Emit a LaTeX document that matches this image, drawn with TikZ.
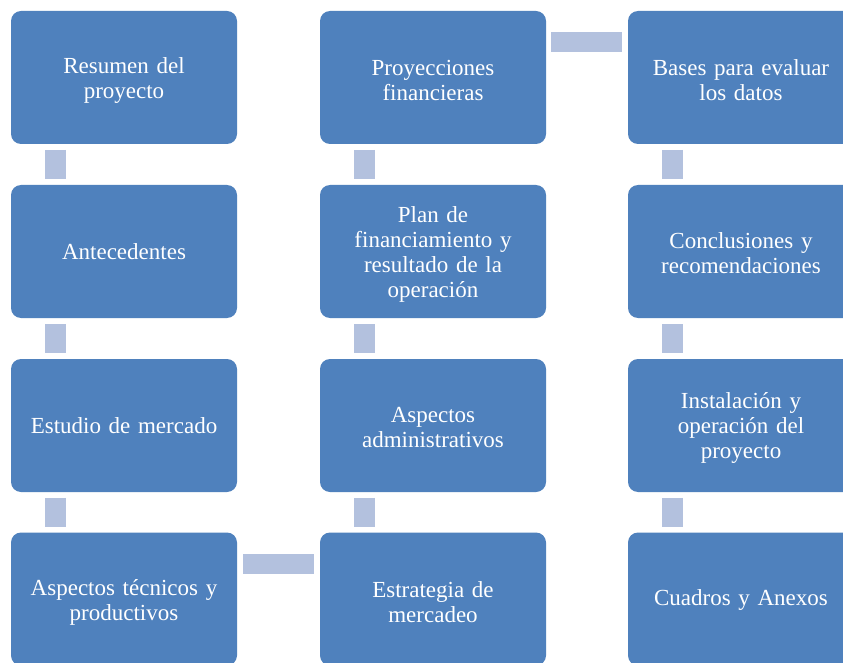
\documentclass[tikz,border=0pt]{standalone}
\usepackage{fontspec}
\setmainfont{Liberation Serif}
\usetikzlibrary{calc}
\definecolor{boxblue}{HTML}{4F81BD}
\definecolor{barblue}{HTML}{B3C1DE}
\tikzset{
  stepbox/.style={rectangle, rounded corners=10pt, fill=boxblue, draw=none,
    minimum width=226pt, minimum height=133pt, inner sep=0pt},
  boxtext/.style={inner sep=0pt, text width=214pt, align=center, text=white,
    font=\fontsize{23pt}{25pt}\selectfont},
  vbar/.style={draw=barblue, line width=21pt, line cap=butt},
  hbar/.style={draw=barblue, line width=20pt, line cap=butt}
}
\begin{document}
\begin{tikzpicture}[x=1pt,y=1pt]
\clip (0,0) rectangle (843,-663);
\fill[white] (0,0) rectangle (843,-663);
% boxes
\node[stepbox] (a1) at (124,-77.5) {};
\node[stepbox] (a2) at (124,-251.5) {};
\node[stepbox] (a3) at (124,-425.5) {};
\node[stepbox] (a4) at (124,-599) {};
\node[stepbox] (b1) at (433,-77.5) {};
\node[stepbox] (b2) at (433,-251.5) {};
\node[stepbox] (b3) at (433,-425.5) {};
\node[stepbox] (b4) at (433,-599) {};
\node[stepbox] (c1) at (741,-77.5) {};
\node[stepbox] (c2) at (741,-251.5) {};
\node[stepbox] (c3) at (741,-425.5) {};
\node[stepbox] (c4) at (741,-599) {};
% texts
\node[boxtext] (a1t) at ($(a1)+(0,-3)$) {Resumen del\\proyecto};
\node[boxtext] (a2t) at (a2) {Antecedentes};
\node[boxtext] (a3t) at (a3) {Estudio de mercado};
\node[boxtext] (a4t) at ($(a4)+(0,-3)$) {Aspectos técnicos y\\productivos};
\node[boxtext] (b1t) at ($(b1)+(0,-3)$) {Proyecciones\\financieras};
\node[boxtext] (b2t) at ($(b2)+(0,-3)$) {Plan de\\financiamiento y\\resultado de la\\operación};
\node[boxtext] (b3t) at ($(b3)+(0,-2)$) {Aspectos\\administrativos};
\node[boxtext] (b4t) at ($(b4)+(0,-3)$) {Estrategia de\\mercadeo};
\node[boxtext] (c1t) at ($(c1)+(0,-3)$) {Bases para evaluar\\los datos};
\node[boxtext] (c2t) at ($(c2)+(0,-2)$) {Conclusiones y\\recomendaciones};
\node[boxtext] (c3t) at ($(c3)+(0,-2)$) {Instalación y\\operación del\\proyecto};
\node[boxtext] (c4t) at ($(c4)+(0,-1)$) {Cuadros y Anexos};
% vertical bars
\foreach \u/\v in {a1/a2,a2/a3,a3/a4,b4/b3,b3/b2,b2/b1,c1/c2,c2/c3,c3/c4}{
  \draw[vbar] ($(\u.south west)!0.5!(\v.north west)+(44.5,0)$) ++(0,14.5) -- ++(0,-29);
}
% horizontal bars
\draw[hbar] ($(a4.north east)+(6,-31.5)$) -- ($(b4.north west)+(-6,-31.5)$);
\draw[hbar] ($(b1.north east)+(5,-31)$) -- ($(c1.north west)+(-6,-31)$);
\end{tikzpicture}
\end{document}
